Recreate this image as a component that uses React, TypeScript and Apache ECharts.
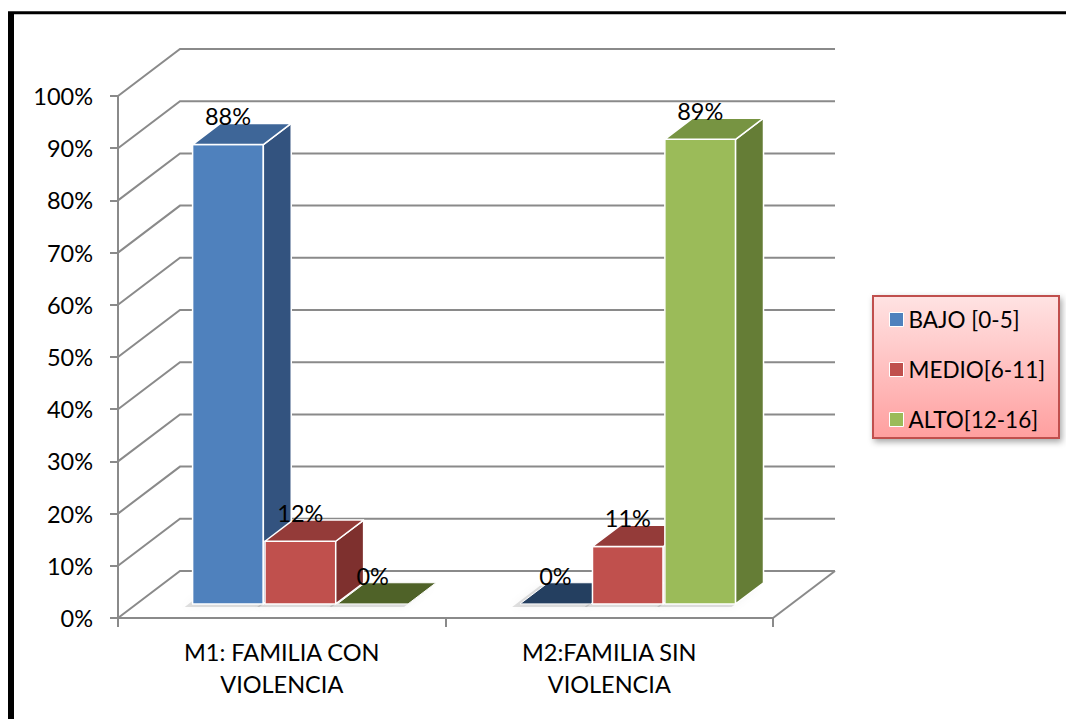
import React, { useEffect, useRef } from 'react';
import * as echarts from 'echarts';

const categories = ['M1: FAMILIA CON\nVIOLENCIA', 'M2:FAMILIA SIN\nVIOLENCIA'];
const seriesNames = ['BAJO [0-5]', 'MEDIO[6-11]', 'ALTO[12-16]'];
const bajo = [88, 0];
const medio = [12, 11];
const alto = [0, 89];
const yTicks = [0, 10, 20, 30, 40, 50, 60, 70, 80, 90, 100];

const FONT = 'Lato, "Liberation Sans", sans-serif';
const FS = 23.5;
const DX = 62;
const DY = -47;
const GRID_COLOR = '#8a8a8a';
const palette = [
  { front: '#4F81BD', top: '#3E6698', side: '#33537F', zeroTop: '#243F60' },
  { front: '#C0504D', top: '#943B39', side: '#7E302E', zeroTop: '#632523' },
  { front: '#9BBB59', top: '#779442', side: '#657D36', zeroTop: '#4F6228' },
];

function makeBarSeries(idx: number, values: number[]) {
  const pal = palette[idx];
  return {
    type: 'custom',
    name: seriesNames[idx],
    coordinateSystem: 'cartesian2d',
    itemStyle: { color: pal.front },
    encode: { x: 0, y: 1 },
    data: values.map((v, i) => [i, v]),
    z: 3,
    renderItem: (params: any, api: any) => {
      const cat = api.value(0);
      const val = api.value(1);
      const base = api.coord([cat, 0]);
      const top = api.coord([cat, val]);
      const band = api.size([1, 0])[0];
      const w = band * 0.216;
      const cx = base[0] + (idx - 1) * band * 0.221 + DX * 0.3;
      const x0 = cx - w / 2;
      const x1 = cx + w / 2;
      const y0 = base[1] + DY * 0.3;
      const y1 = top[1] + DY * 0.3;
      const ddx = DX * 0.45;
      const ddy = DY * 0.45;
      const children: any[] = [];
      children.push({
        type: 'polygon',
        z2: -1,
        shape: {
          points: [
            [x0 - 8, y0 + 3],
            [x1 - 4, y0 + 3],
            [x1 + ddx - 4, y0 + ddy + 3],
            [x0 + ddx - 8, y0 + ddy + 3],
          ],
        },
        style: { fill: 'rgba(0,0,0,0.12)', shadowBlur: 8, shadowColor: 'rgba(0,0,0,0.35)' },
      });
      const stroke = { stroke: '#ffffff', lineWidth: 1.5, lineJoin: 'round' };
      if (val > 0) {
        children.push({
          type: 'rect',
          shape: { x: x0, y: y1, width: w, height: y0 - y1 },
          style: { fill: pal.front, ...stroke },
        });
        children.push({
          type: 'polygon',
          shape: { points: [[x1, y1], [x1 + ddx, y1 + ddy], [x1 + ddx, y0 + ddy], [x1, y0]] },
          style: { fill: pal.side, ...stroke },
        });
        children.push({
          type: 'polygon',
          shape: { points: [[x0, y1], [x1, y1], [x1 + ddx, y1 + ddy], [x0 + ddx, y1 + ddy]] },
          style: { fill: pal.top, ...stroke },
        });
      } else {
        children.push({
          type: 'polygon',
          shape: { points: [[x0, y1], [x1, y1], [x1 + ddx, y1 + ddy], [x0 + ddx, y1 + ddy]] },
          style: { fill: pal.zeroTop, stroke: '#ffffff', lineWidth: 1 },
        });
      }
      children.push({
        type: 'text',
        z2: 100,
        style: {
          text: val + '%',
          x: cx,
          y: y1 + ddy - 7,
          align: 'center',
          verticalAlign: 'middle',
          fill: '#000',
          font: FS + 'px ' + FONT,
        },
      });
      return { type: 'group', children };
    },
  };
}

export default function App() {
  const ref = useRef<HTMLDivElement>(null);
  useEffect(() => {
    if (!ref.current) return;
    const chart = echarts.init(ref.current, undefined, { renderer: 'svg' });
    const option: any = {
      animation: false,
      backgroundColor: '#ffffff',
      grid: { left: 118, top: 96, width: 655, height: 522 },
      xAxis: {
        type: 'category',
        data: categories,
        axisLine: { lineStyle: { color: GRID_COLOR, width: 2 } },
        axisTick: { show: true, length: 9, lineStyle: { color: GRID_COLOR, width: 2 } },
        axisLabel: { color: '#000', fontSize: FS, fontFamily: FONT, lineHeight: 32, margin: 18 },
        splitLine: { show: false },
      },
      yAxis: {
        type: 'value',
        min: 0,
        max: 100,
        interval: 10,
        axisLine: { show: true, lineStyle: { color: GRID_COLOR, width: 2 } },
        axisTick: { show: true, length: 8, lineStyle: { color: GRID_COLOR, width: 2 } },
        axisLabel: { color: '#000', fontSize: FS, fontFamily: FONT, margin: 25, formatter: '{value}%' },
        splitLine: { show: false },
      },
      legend: {
        data: seriesNames,
        orient: 'vertical',
        left: 884,
        top: 303,
        itemWidth: 14,
        itemHeight: 14,
        itemGap: 27,
        icon: 'rect',
        z: 10,
        selectedMode: false,
        itemStyle: { borderColor: '#ffffff', borderWidth: 1 },
        textStyle: { color: '#000', fontSize: 22.5, fontFamily: FONT, lineHeight: 22 },
      },
      graphic: [
        {
          type: 'rect',
          z: 1,
          shape: { x: 873, y: 296, width: 186, height: 142 },
          style: {
            fill: new echarts.graphic.LinearGradient(0, 0, 0, 1, [
              { offset: 0, color: '#FFE3E3' },
              { offset: 1, color: '#FF9F9F' },
            ]),
            stroke: '#C0504D',
            lineWidth: 2,
            shadowBlur: 6,
            shadowOffsetX: 2,
            shadowOffsetY: 3,
            shadowColor: 'rgba(0,0,0,0.35)',
          },
        },
        {
          type: 'line',
          z: 20,
          shape: { x1: 11, y1: 12, x2: 11, y2: 725 },
          style: { stroke: '#000', lineWidth: 6 },
        },
        {
          type: 'line',
          z: 20,
          shape: { x1: 8, y1: 12.8, x2: 1070, y2: 12.8 },
          style: { stroke: '#000', lineWidth: 3 },
        },
      ],
      series: [
        {
          type: 'custom',
          name: 'grid3d',
          coordinateSystem: 'cartesian2d',
          silent: true,
          z: 1,
          encode: { x: 0, y: 1 },
          data: yTicks.map((v) => [0, v]),
          renderItem: (params: any, api: any) => {
            const v = api.value(1);
            const p = api.coord([0, v]);
            const left = params.coordSys.x;
            const right = left + params.coordSys.width;
            const y = p[1];
            const st = { stroke: GRID_COLOR, lineWidth: 2, fill: null };
            const children: any[] = [
              {
                type: 'polyline',
                shape: { points: [[left, y], [left + DX, y + DY], [right + DX, y + DY]] },
                style: st,
              },
            ];
            if (v === 0) {
              children.push({
                type: 'line',
                shape: { x1: right, y1: y, x2: right + DX, y2: y + DY },
                style: st,
              });
            }
            return { type: 'group', children };
          },
        },
        makeBarSeries(0, bajo),
        makeBarSeries(1, medio),
        makeBarSeries(2, alto),
      ],
    };
    chart.setOption(option);
    return () => chart.dispose();
  }, []);
  return (
    <div
      ref={ref}
      style={{ position: 'fixed', left: 0, top: 0, width: '1066px', height: '719px' }}
    />
  );
}
